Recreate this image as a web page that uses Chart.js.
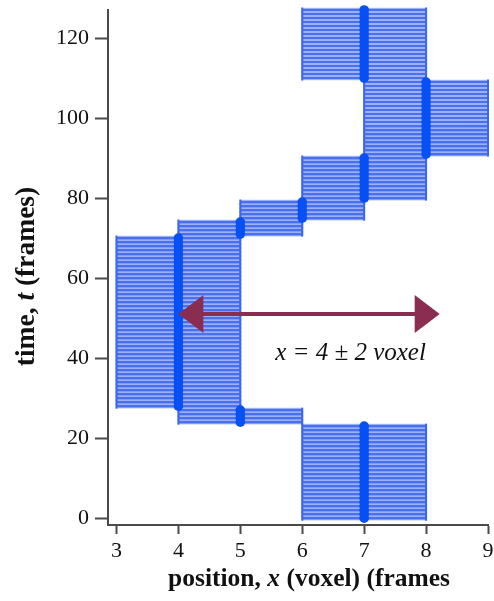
<!DOCTYPE html>
<html>
<head>
<meta charset="utf-8">
<script src="https://cdn.jsdelivr.net/npm/chart.js@4/dist/chart.umd.min.js"></script>
<style>
  html, body { margin: 0; padding: 0; background: #fff; }
  #wrap { position: relative; width: 494px; height: 601px; }
</style>
</head>
<body>
<div id="wrap"><canvas id="chart"></canvas></div>
<script>
// frame number (time, t)
const frames = [
  0, 1, 2, 3, 4, 5, 6, 7, 8, 9, 10, 11, 12, 13, 14, 15,
  16, 17, 18, 19, 20, 21, 22, 23, 24, 25, 26, 27, 28, 29, 30, 31,
  32, 33, 34, 35, 36, 37, 38, 39, 40, 41, 42, 43, 44, 45, 46, 47,
  48, 49, 50, 51, 52, 53, 54, 55, 56, 57, 58, 59, 60, 61, 62, 63,
  64, 65, 66, 67, 68, 69, 70, 71, 72, 73, 74, 75, 76, 77, 78, 79,
  80, 81, 82, 83, 84, 85, 86, 87, 88, 89, 90, 91, 92, 93, 94, 95,
  96, 97, 98, 99, 100, 101, 102, 103, 104, 105, 106, 107, 108, 109, 110, 111,
  112, 113, 114, 115, 116, 117, 118, 119, 120, 121, 122, 123, 124, 125, 126, 127
];
// estimated position (voxel) for each frame
const positions = [
  7, 7, 7, 7, 7, 7, 7, 7, 7, 7, 7, 7, 7, 7, 7, 7,
  7, 7, 7, 7, 7, 7, 7, 7, 5, 5, 5, 5, 4, 4, 4, 4,
  4, 4, 4, 4, 4, 4, 4, 4, 4, 4, 4, 4, 4, 4, 4, 4,
  4, 4, 4, 4, 4, 4, 4, 4, 4, 4, 4, 4, 4, 4, 4, 4,
  4, 4, 4, 4, 4, 4, 4, 5, 5, 5, 5, 6, 6, 6, 6, 6,
  7, 7, 7, 7, 7, 7, 7, 7, 7, 7, 7, 8, 8, 8, 8, 8,
  8, 8, 8, 8, 8, 8, 8, 8, 8, 8, 8, 8, 8, 8, 7, 7,
  7, 7, 7, 7, 7, 7, 7, 7, 7, 7, 7, 7, 7, 7, 7, 7
];
// position uncertainty (± voxel)
const posError = [
  1, 1, 1, 1, 1, 1, 1, 1, 1, 1, 1, 1, 1, 1, 1, 1,
  1, 1, 1, 1, 1, 1, 1, 1, 1, 1, 1, 1, 1, 1, 1, 1,
  1, 1, 1, 1, 1, 1, 1, 1, 1, 1, 1, 1, 1, 1, 1, 1,
  1, 1, 1, 1, 1, 1, 1, 1, 1, 1, 1, 1, 1, 1, 1, 1,
  1, 1, 1, 1, 1, 1, 1, 1, 1, 1, 1, 1, 1, 1, 1, 1,
  1, 1, 1, 1, 1, 1, 1, 1, 1, 1, 1, 1, 1, 1, 1, 1,
  1, 1, 1, 1, 1, 1, 1, 1, 1, 1, 1, 1, 1, 1, 1, 1,
  1, 1, 1, 1, 1, 1, 1, 1, 1, 1, 1, 1, 1, 1, 1, 1
];

const xTicks = [3, 4, 5, 6, 7, 8, 9];
const yTicks = [0, 20, 40, 60, 80, 100, 120];

const xTitle = ['position, ', 'x', ' (voxel) (frames'];
const yTitle = ['time, ', 't', ' (frames)'];

// double arrow annotation: from x, to x, at t
const arrowFrom = 4;
const arrowTo = 8.22;
const arrowAt = 51;
const arrowLabel = 'x = 4 \u00b1 2 voxel';
const arrowLabelX = 6.78;
const arrowLabelT = 41.2;

const FONT = '"Liberation Serif", "Times New Roman", serif';
const AXIS_COLOR = '#4a4a4a';

const barsData = frames.map((t, i) => ({ y: t, x: [positions[i] - posError[i], positions[i] + posError[i]] }));
const dotsData = frames.map((t, i) => ({ x: positions[i], y: t }));
const capsData = [];
frames.forEach((t, i) => {
  capsData.push({ x: positions[i] - posError[i], y: t });
  capsData.push({ x: positions[i] + posError[i], y: t });
});

const annotate = {
  id: 'annotate',
  afterDatasetsDraw(chart) {
    const ctx = chart.ctx;
    const xs = chart.scales.x, ys = chart.scales.y;
    const x1 = xs.getPixelForValue(arrowFrom);
    const x2 = xs.getPixelForValue(arrowTo);
    const y = ys.getPixelForValue(arrowAt);
    const head = 25, half = 19;
    ctx.save();
    ctx.strokeStyle = '#8a2d50';
    ctx.fillStyle = '#8a2d50';
    ctx.lineWidth = 4;
    ctx.beginPath();
    ctx.moveTo(x1 + head - 2, y);
    ctx.lineTo(x2 - head + 2, y);
    ctx.stroke();
    ctx.beginPath();
    ctx.moveTo(x1, y);
    ctx.lineTo(x1 + head, y - half);
    ctx.lineTo(x1 + head, y + half);
    ctx.closePath();
    ctx.fill();
    ctx.beginPath();
    ctx.moveTo(x2, y);
    ctx.lineTo(x2 - head, y - half);
    ctx.lineTo(x2 - head, y + half);
    ctx.closePath();
    ctx.fill();
    ctx.fillStyle = '#111';
    ctx.font = 'italic 25px ' + FONT;
    ctx.textAlign = 'center';
    ctx.textBaseline = 'middle';
    ctx.fillText(arrowLabel, xs.getPixelForValue(arrowLabelX), ys.getPixelForValue(arrowLabelT));
    ctx.restore();
  }
};

function drawParts(ctx, parts, cx, cy, size) {
  const fonts = ['bold ' + size + 'px ' + FONT, 'italic bold ' + size + 'px ' + FONT, 'bold ' + size + 'px ' + FONT];
  let total = 0;
  const widths = parts.map((p, i) => { ctx.font = fonts[i]; const w = ctx.measureText(p).width; total += w; return w; });
  let x = cx - total / 2;
  parts.forEach((p, i) => {
    ctx.font = fonts[i];
    ctx.fillText(p, x, cy);
    x += widths[i];
  });
}

const axisTitles = {
  id: 'axisTitles',
  afterDraw(chart) {
    const ctx = chart.ctx;
    const a = chart.chartArea;
    ctx.save();
    ctx.fillStyle = '#111';
    ctx.textAlign = 'left';
    ctx.textBaseline = 'alphabetic';
    drawParts(ctx, xTitle, (a.left + a.right) / 2 + 11, 586, 25.5);
    ctx.translate(34, (a.top + a.bottom) / 2 + 9);
    ctx.rotate(-Math.PI / 2);
    drawParts(ctx, yTitle, 0, 0, 27.5);
    ctx.restore();
  }
};

new Chart(document.getElementById('chart'), {
  type: 'scatter',
  data: {
    datasets: [
      {
        type: 'line',
        data: dotsData,
        showLine: false,
        pointRadius: 4.8,
        pointBackgroundColor: '#0650f4',
        pointBorderWidth: 0,
        clip: false,
        order: 0
      },
      {
        type: 'line',
        data: capsData,
        showLine: false,
        pointStyle: 'line',
        pointRotation: 90,
        pointRadius: 2.5,
        pointBorderColor: '#3a66f0',
        pointBorderWidth: 2,
        clip: false,
        order: 1
      },
      {
        type: 'bar',
        indexAxis: 'y',
        data: barsData,
        barThickness: 2,
        grouped: false,
        backgroundColor: '#4a70ee',
        clip: false,
        order: 2
      },
      {
        type: 'bar',
        indexAxis: 'y',
        data: barsData,
        barThickness: 4,
        grouped: false,
        backgroundColor: '#b9c7fa',
        clip: false,
        order: 3
      }
    ]
  },
  options: {
    responsive: true,
    maintainAspectRatio: false,
    animation: false,
    events: [],
    layout: { padding: { top: 10, right: 6, left: 0, bottom: 0 } },
    plugins: { legend: { display: false }, tooltip: { enabled: false } },
    scales: {
      x: {
        type: 'linear',
        position: 'bottom',
        offset: false,
        min: 2.863,
        max: 9,
        afterBuildTicks: (s) => { s.ticks = xTicks.map(v => ({ value: v })); },
        afterFit: (s) => { s.height = 76; s.paddingLeft = 0; s.paddingRight = 0; },
        grid: { offset: false, drawOnChartArea: false, tickLength: 9, tickColor: AXIS_COLOR, tickWidth: 2 },
        border: { color: AXIS_COLOR, width: 2 },
        ticks: { color: '#111', font: { family: FONT, size: 22 }, padding: 4, autoSkip: false, maxRotation: 0 }
      },
      y: {
        type: 'linear',
        position: 'left',
        offset: false,
        min: -1.7,
        max: 127,
        afterBuildTicks: (s) => { s.ticks = yTicks.map(v => ({ value: v })); },
        afterFit: (s) => { s.width = 108; s.paddingTop = 0; s.paddingBottom = 0; },
        grid: { offset: false, drawOnChartArea: false, tickLength: 13, tickColor: AXIS_COLOR, tickWidth: 2 },
        border: { color: AXIS_COLOR, width: 2 },
        ticks: { color: '#111', font: { family: FONT, size: 22 }, padding: 6, autoSkip: false }
      }
    }
  },
  plugins: [annotate, axisTitles]
});
</script>
</body>
</html>
